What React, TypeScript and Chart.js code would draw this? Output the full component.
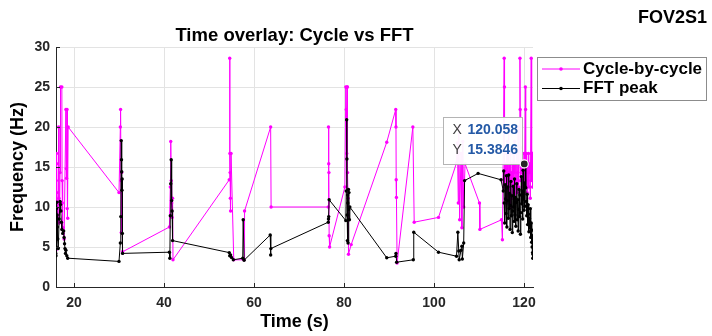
import React, { useEffect, useRef } from "react";
import { Chart, registerables } from "chart.js";

Chart.register(...registerables);

// ---------- data ----------
const cycleTime = [
  15.95, 16.0, 16.05, 16.1, 16.15, 16.2, 16.3, 16.4, 16.6, 16.65, 16.75, 16.9, 17.0, 17.3, 17.35, 17.4, 17.55, 17.8,
  18.2, 18.3, 18.35, 18.45, 18.5, 18.6, 18.7,
  30.0, 30.3, 30.35, 30.45, 30.5, 30.6, 30.8,
  41.2, 41.4, 41.5, 41.6, 41.7, 41.8, 41.9, 42.0,
  54.5, 54.6, 54.65, 54.7, 54.75, 54.8, 54.9, 55.5, 57.8, 57.9,
  63.7, 63.8, 76.5, 76.55, 76.6, 76.65, 76.7, 76.8,
  80.2, 80.4, 80.5, 80.6, 80.7, 80.75, 80.8, 80.9, 81.0, 81.6,
  89.5, 91.5, 91.55, 91.6, 91.65, 91.8, 95.3, 95.6, 101.0,
  105.0, 105.2, 105.4, 105.5, 105.7, 106.0, 106.2, 106.4, 106.6, 106.9, 110.1, 110.2,
  115.0, 115.2, 115.6, 115.65, 115.7, 115.8, 115.9, 116.0, 116.1, 116.2, 116.3, 116.4, 116.5, 116.6, 116.7, 116.8,
  116.9, 117.0, 117.1, 117.2, 117.3, 117.4, 117.5, 117.6, 117.7, 117.8, 117.9, 118.0, 118.1, 118.2, 118.3, 118.4,
  118.5, 118.6, 118.7, 118.8, 118.9, 119.1, 119.15, 119.2, 119.3, 119.4, 119.5, 119.6, 119.7, 119.8, 119.9, 120.0,
  120.058, 120.2, 120.3, 120.35, 120.4, 120.5, 120.6, 120.7, 120.8, 120.9, 121.0, 121.1, 121.2, 121.3, 121.4, 121.6,
  121.65, 121.7, 121.75, 121.8, 121.9, 122.0,
];
const cycleFreq = [
  4.6, 8.5, 13.3, 16.7, 15.4, 11.8, 10.5, 8.3, 20.0, 11.1, 8.0, 14.3, 25.0, 25.0, 13.3, 10.5, 7.4, 6.0,
  22.2, 14.8, 13.6, 22.2, 9.8, 8.6, 20.0,
  11.8, 20.0, 22.2, 13.3, 6.8, 14.3, 4.4,
  7.5, 12.5, 18.2, 13.3, 10.5, 8.7, 11.1, 3.4,
  13.4, 28.6, 16.7, 14.3, 11.1, 9.5, 16.7, 3.4, 3.4, 9.5,
  20.0, 10.0, 10.0, 20.0, 15.4, 14.3, 6.4, 5.0,
  12.5, 25.0, 22.2, 16.7, 25.0, 25.0, 14.3, 11.1, 4.1, 5.3,
  18.1, 22.2, 20.0, 13.4, 11.2, 3.0, 20.0, 8.1, 8.7,
  15.5, 18.0, 10.5, 20.0, 8.4, 16.7, 7.4, 18.2, 10.0, 15.4, 10.5, 7.2,
  8.4, 5.9, 28.6, 25.0, 12.5, 15.4, 14.3, 11.1, 16.7, 12.5, 18.2, 10.5, 14.3, 20.0, 11.8, 15.4,
  12.5, 16.7, 10.0, 14.3, 13.3, 15.4, 11.1, 16.7, 12.5, 14.3, 18.2, 10.5, 13.3, 15.4, 12.5, 16.7,
  11.8, 14.3, 20.0, 12.5, 15.4, 28.6, 22.2, 13.3, 17.4, 14.3, 16.7, 12.5, 15.4, 11.1, 14.3, 16.7,
  15.3846, 13.3, 25.0, 22.2, 12.5, 16.7, 14.3, 11.8, 15.4, 13.3, 16.7, 12.5, 15.4, 14.3, 11.1, 28.6,
  16.7, 15.4, 13.3, 16.7, 12.5, 15.4,
];
const fftTime = [
  15.95, 16.0, 16.05, 16.1, 16.2, 16.25, 16.3, 16.4, 16.5, 16.7, 16.9, 17.0, 17.1, 17.2, 17.3, 17.5, 17.7, 17.8,
  17.9, 18.0, 18.1, 18.2, 18.4, 18.6,
  30.0, 30.3, 30.4, 30.5, 30.55, 30.6, 30.65, 30.7, 30.75, 30.8,
  41.2, 41.3, 41.4, 41.5, 41.6, 41.7, 41.8, 41.9,
  54.5, 54.6, 54.8, 55.0, 55.4, 57.5, 57.6, 57.8, 63.6, 63.7, 63.75,
  76.5, 76.55, 76.6, 76.7,
  80.4, 80.5, 80.6, 80.65, 80.7, 80.75, 80.8, 80.85, 80.9, 81.0, 81.05, 81.1, 81.2, 81.3,
  89.5, 91.5, 91.55, 91.7, 95.4, 95.5, 101.0,
  105.0, 105.3, 105.5, 105.6, 106.0, 106.2, 106.3, 106.6, 106.8, 109.8, 114.9,
  115.4, 115.5, 115.6, 115.7, 115.8, 115.9, 116.0, 116.1, 116.2, 116.3, 116.4, 116.5, 116.6, 116.7, 116.8, 116.9,
  117.0, 117.1, 117.2, 117.3, 117.4, 117.5, 117.6, 117.7, 117.8, 117.9, 118.0, 118.1, 118.2, 118.3, 118.4, 118.5,
  118.6, 118.7, 118.8, 118.9, 119.0, 119.1, 119.2, 119.3, 119.4, 119.5, 119.6, 119.7, 119.8, 119.9, 120.0, 120.1,
  120.2, 120.3, 120.4, 120.5, 120.6, 120.7, 120.8, 120.9, 121.0, 121.1, 121.2, 121.3, 121.4, 121.5, 121.6, 121.7,
  121.75, 121.8, 121.85, 121.9, 121.95, 122.0,
];
const fftFreq = [
  4.2, 3.9, 5.0, 9.8, 10.6, 9.0, 7.5, 6.0, 4.8, 8.5, 10.7, 10.3, 9.5, 8.1, 7.2, 6.7, 7.0, 6.2,
  5.4, 4.8, 4.2, 4.6, 3.9, 3.6,
  3.2, 5.5, 8.8, 18.3, 15.9, 14.4, 12.1, 13.5, 6.7, 4.2,
  4.35, 3.6, 8.9, 12.9, 15.9, 10.8, 9.5, 5.8,
  4.3, 3.9, 4.0, 3.7, 3.4, 3.6, 8.4, 3.35, 6.5, 4.0, 4.8,
  8.1, 8.5, 8.8, 10.9,
  8.3, 12.0, 20.9, 16.0, 9.0, 5.8, 11.5, 10.5, 5.5, 12.2, 9.7, 11.8, 8.4, 10.0,
  3.65, 3.85, 4.2, 3.1, 3.4, 6.85, 4.35,
  3.85, 6.85, 4.5, 3.4, 4.6, 5.1, 3.5, 5.5, 13.3, 14.2, 13.4,
  12.0, 14.5, 10.5, 8.0, 12.8, 11.0, 9.2, 13.9, 7.5, 10.8, 12.5, 8.6, 14.0, 9.8, 11.7, 7.2,
  10.2, 13.2, 8.9, 11.4, 6.8, 9.5, 12.6, 10.0, 8.2, 13.5, 9.0, 11.2, 7.6, 10.6, 12.9, 8.4,
  10.9, 7.0, 9.7, 12.2, 8.8, 11.5, 6.6, 9.3, 13.8, 10.4, 12.0, 8.5, 14.6, 11.0, 9.6, 13.0,
  10.1, 15.2, 12.4, 10.7, 8.9, 11.6, 7.8, 10.3, 9.1, 6.9, 8.6, 7.4, 9.8, 6.2, 8.0, 5.6,
  7.1, 5.0, 6.4, 4.3, 3.6, 4.1,
];
const xTicks = [20, 40, 60, 80, 100, 120];
const yTicks = [0, 5, 10, 15, 20, 25, 30];
const xRange = [16, 122];
const yRange = [0, 30];
const seriesNames = ["Cycle-by-cycle", "FFT peak"];
const seriesColors = ["#ff00ff", "#000000"];
const tipX = 120.058;
const tipY = 15.3846;
const titleText = "Time overlay: Cycle vs FFT";
const cornerText = "FOV2S1";
const xLabel = "Time (s)";
const yLabel = "Frequency (Hz)";

const FONT = '"Liberation Sans", Arial, Helvetica, sans-serif';
const AXIS_COLOR = "#262626";

const decorPlugin = {
  id: "decor",
  beforeDraw(chart: any) {
    const ctx = chart.ctx;
    ctx.save();
    ctx.fillStyle = "#ffffff";
    ctx.fillRect(0, 0, chart.width, chart.height);
    ctx.restore();
  },
  afterDraw(chart: any) {
    const ctx = chart.ctx;
    const area = chart.chartArea;
    const xs = chart.scales.x;
    const ys = chart.scales.y;
    ctx.save();

    // inward tick marks
    ctx.strokeStyle = AXIS_COLOR;
    ctx.lineWidth = 1;
    ctx.beginPath();
    xTicks.forEach((v) => {
      const px = Math.round(xs.getPixelForValue(v)) + 0.5;
      ctx.moveTo(px, area.bottom);
      ctx.lineTo(px, area.bottom - 4);
    });
    yTicks.forEach((v) => {
      const py = Math.round(ys.getPixelForValue(v)) + 0.5;
      ctx.moveTo(area.left, py);
      ctx.lineTo(area.left + 4, py);
    });
    ctx.stroke();

    // titles
    ctx.fillStyle = "#000000";
    ctx.textBaseline = "middle";
    ctx.textAlign = "center";
    const cx = (area.left + area.right) / 2;
    ctx.font = `bold 18.5px ${FONT}`;
    ctx.fillText(titleText, cx, 36);
    ctx.textAlign = "right";
    ctx.font = `bold 18px ${FONT}`;
    ctx.fillText(cornerText, 707, 18);
    ctx.textAlign = "center";
    ctx.font = `bold 18px ${FONT}`;
    ctx.fillText(xLabel, cx, 322);
    ctx.save();
    ctx.translate(18, (area.top + area.bottom) / 2);
    ctx.rotate(-Math.PI / 2);
    ctx.fillText(yLabel, 0, 0);
    ctx.restore();

    // legend
    const lx = 537.5, ly = 57.5, lw = 169, lh = 43;
    ctx.fillStyle = "#ffffff";
    ctx.fillRect(lx, ly, lw, lh);
    ctx.strokeStyle = "#8c8c8c";
    ctx.lineWidth = 1;
    ctx.strokeRect(lx, ly, lw, lh);
    seriesNames.forEach((name, i) => {
      const yy = 69 + i * 19.5;
      ctx.strokeStyle = seriesColors[i];
      ctx.lineWidth = 1;
      ctx.beginPath();
      ctx.moveTo(542, yy);
      ctx.lineTo(580, yy);
      ctx.stroke();
      ctx.fillStyle = seriesColors[i];
      ctx.beginPath();
      ctx.arc(561, yy, 1.8, 0, Math.PI * 2);
      ctx.fill();
      ctx.fillStyle = "#000000";
      ctx.textAlign = "left";
      ctx.font = `bold 17px ${FONT}`;
      ctx.fillText(name, 583, yy);
    });

    // datatip
    const mx = xs.getPixelForValue(tipX);
    const my = ys.getPixelForValue(tipY);
    const bw = 79, bh = 47;
    const bx = Math.round(mx - 2 - bw) + 0.5;
    const by = Math.round(my - bh) + 0.5;
    ctx.fillStyle = "rgba(255,255,255,0.95)";
    ctx.fillRect(bx, by, bw, bh);
    ctx.strokeStyle = "#b4b4b4";
    ctx.strokeRect(bx, by, bw, bh);
    ctx.textAlign = "left";
    ctx.font = `14px ${FONT}`;
    ctx.fillStyle = "#404040";
    ctx.fillText("X", bx + 9, by + 13);
    ctx.fillText("Y", bx + 9, by + 33);
    ctx.font = `bold 14px ${FONT}`;
    ctx.fillStyle = "#2459a6";
    ctx.fillText(String(tipX), bx + 24, by + 13);
    ctx.fillText(String(tipY), bx + 24, by + 33);
    ctx.beginPath();
    ctx.arc(mx, my, 4, 0, Math.PI * 2);
    ctx.fillStyle = "#262626";
    ctx.fill();
    ctx.strokeStyle = "#ffffff";
    ctx.lineWidth = 1.2;
    ctx.stroke();

    ctx.restore();
  },
};

export default function App() {
  const ref = useRef<HTMLCanvasElement | null>(null);
  useEffect(() => {
    if (!ref.current) return;
    const cycleData = cycleTime.map((t, i) => ({ x: t, y: cycleFreq[i] }));
    const fftData = fftTime.map((t, i) => ({ x: t, y: fftFreq[i] }));
    const chart = new Chart(ref.current, {
      type: "scatter",
      data: {
        datasets: [
          {
            label: seriesNames[0],
            data: cycleData,
            showLine: true,
            borderColor: seriesColors[0],
            backgroundColor: seriesColors[0],
            borderWidth: 1,
            pointRadius: 1.7,
            pointBorderWidth: 0,
            order: 2,
          },
          {
            label: seriesNames[1],
            data: fftData,
            showLine: true,
            borderColor: seriesColors[1],
            backgroundColor: seriesColors[1],
            borderWidth: 1,
            pointRadius: 1.7,
            pointBorderWidth: 0,
            order: 1,
          },
        ],
      },
      options: {
        animation: false,
        responsive: false,
        devicePixelRatio: 1,
        layout: { padding: { left: 0, right: 179, top: 47, bottom: 0 } },
        plugins: { legend: { display: false }, tooltip: { enabled: false }, title: { display: false } },
        events: [],
        scales: {
          x: {
            type: "linear",
            min: xRange[0],
            max: xRange[1],
            afterBuildTicks: (axis: any) => {
              axis.ticks = xTicks.map((v) => ({ value: v }));
            },
            afterFit: (axis: any) => {
              axis.height = 49;
            },
            grid: { color: "#e3e3e3", drawTicks: false },
            border: { display: true, color: AXIS_COLOR, width: 1 },
            ticks: {
              color: AXIS_COLOR,
              padding: 8,
              maxRotation: 0,
              autoSkip: false,
              font: { family: FONT, size: 14, weight: "bold" },
            },
          },
          y: {
            type: "linear",
            min: yRange[0],
            max: yRange[1],
            afterBuildTicks: (axis: any) => {
              axis.ticks = yTicks.map((v) => ({ value: v }));
            },
            afterFit: (axis: any) => {
              axis.width = 56;
            },
            grid: { color: "#e3e3e3", drawTicks: false },
            border: { display: true, color: AXIS_COLOR, width: 1 },
            ticks: {
              color: AXIS_COLOR,
              padding: 6,
              autoSkip: false,
              font: { family: FONT, size: 14, weight: "bold" },
            },
          },
        },
      } as any,
      plugins: [decorPlugin],
    });
    return () => chart.destroy();
  }, []);
  return (
    <div style={{ position: "absolute", left: 0, top: 0, width: 712, height: 336, background: "#fff" }}>
      <canvas ref={ref} width={712} height={336} style={{ display: "block", width: 712, height: 336 }} />
    </div>
  );
}
